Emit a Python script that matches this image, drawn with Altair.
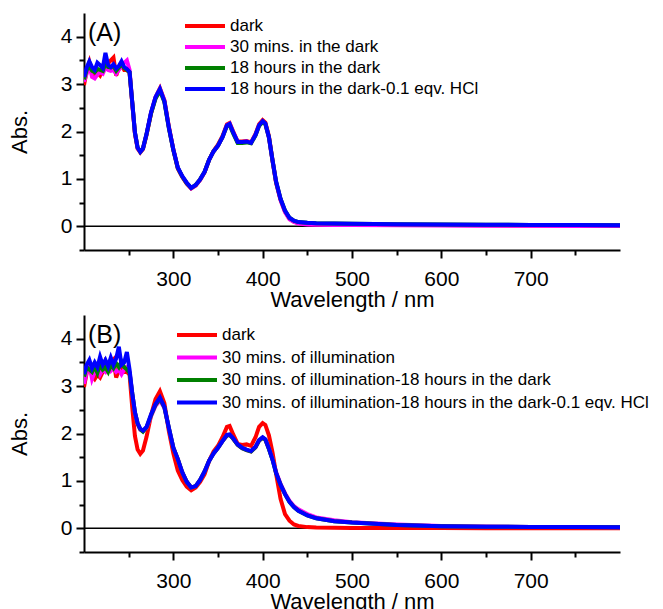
import altair as alt
import pandas as pd

FONT = "Liberation Sans"

wavelength = [200, 203, 206, 209, 212, 215, 218, 221, 224, 227, 230, 233, 236, 239, 242, 245, 248, 251,
              254, 257, 260, 263, 266,
              270, 275, 280, 285, 290, 295, 300, 305, 310, 315, 320, 325, 330, 335, 340, 345, 350, 355, 360,
              363, 367, 372, 377, 382, 387, 392, 396, 400, 403, 407, 411, 415,
              420, 425, 430, 435, 440,
              450, 460, 480, 500,
              550, 600, 650, 700, 750, 800]

# Panel A
a_dark = [2.98, 3.28, 3.46, 3.22, 3.15, 3.24, 3.18, 3.30, 3.52, 3.44, 3.50, 3.56, 3.18, 3.34, 3.40, 3.30, 3.30, 3.24,
          2.60, 1.96, 1.64, 1.56, 1.63,
          1.93, 2.38, 2.72, 2.91, 2.66, 2.10, 1.62, 1.22, 1.04, 0.90, 0.80, 0.86, 0.98, 1.14, 1.40, 1.59, 1.72, 1.90, 2.15,
          2.18, 2.00, 1.79, 1.79, 1.80, 1.77, 1.95, 2.15, 2.24, 2.19, 1.90, 1.40, 0.92,
          0.56, 0.31, 0.16, 0.10, 0.07,
          0.05, 0.045, 0.04, 0.035,
          0.03, 0.025, 0.02, 0.018, 0.015, 0.012]
a_30min = [3.05, 3.22, 3.40, 3.15, 3.12, 3.20, 3.25, 3.22, 3.35, 3.30, 3.28, 3.30, 3.22, 3.30, 3.38, 3.45, 3.50, 3.30,
           2.61, 1.97, 1.65, 1.57, 1.64,
           1.94, 2.39, 2.71, 2.89, 2.65, 2.09, 1.62, 1.23, 1.05, 0.91, 0.80, 0.86, 0.98, 1.14, 1.40, 1.58, 1.70, 1.88, 2.13,
           2.16, 1.98, 1.78, 1.78, 1.79, 1.76, 1.93, 2.13, 2.21, 2.16, 1.87, 1.38, 0.92,
           0.55, 0.30, 0.15, 0.09, 0.06,
           0.04, 0.035, 0.03, 0.025,
           0.02, 0.015, 0.012, 0.01, 0.008, 0.006]
a_18h = [3.10, 3.30, 3.38, 3.28, 3.25, 3.32, 3.30, 3.28, 3.45, 3.36, 3.35, 3.38, 3.28, 3.35, 3.42, 3.34, 3.30, 3.25,
         2.62, 1.98, 1.66, 1.57, 1.64,
         1.94, 2.38, 2.69, 2.86, 2.62, 2.07, 1.61, 1.23, 1.05, 0.91, 0.81, 0.87, 0.99, 1.15, 1.40, 1.58, 1.70, 1.88, 2.12,
         2.14, 1.96, 1.76, 1.76, 1.77, 1.75, 1.92, 2.12, 2.20, 2.16, 1.88, 1.39, 0.94,
         0.58, 0.33, 0.18, 0.12, 0.09,
         0.075, 0.065, 0.06, 0.055,
         0.045, 0.04, 0.035, 0.03, 0.025, 0.02]
a_18h_hcl = [3.15, 3.35, 3.48, 3.36, 3.30, 3.45, 3.40, 3.34, 3.66, 3.40, 3.36, 3.42, 3.33, 3.38, 3.48, 3.36, 3.32, 3.26,
             2.62, 1.98, 1.66, 1.57, 1.64,
             1.95, 2.40, 2.72, 2.90, 2.64, 2.08, 1.62, 1.24, 1.06, 0.92, 0.81, 0.87, 0.99, 1.15, 1.40, 1.58, 1.70, 1.88, 2.13,
             2.16, 1.98, 1.78, 1.78, 1.79, 1.76, 1.93, 2.13, 2.22, 2.17, 1.88, 1.40, 0.95,
             0.58, 0.33, 0.18, 0.12, 0.09,
             0.075, 0.065, 0.06, 0.055,
             0.045, 0.04, 0.035, 0.03, 0.025, 0.02]

# Panel B
b_dark = [2.98, 3.28, 3.46, 3.22, 3.15, 3.24, 3.18, 3.30, 3.52, 3.44, 3.50, 3.56, 3.18, 3.34, 3.40, 3.30, 3.30, 3.24,
          2.55, 1.95, 1.66, 1.57, 1.64,
          1.93, 2.38, 2.72, 2.89, 2.64, 2.05, 1.58, 1.22, 1.02, 0.88, 0.80, 0.86, 0.98, 1.14, 1.42, 1.62, 1.74, 1.92, 2.14,
          2.16, 1.98, 1.78, 1.76, 1.77, 1.74, 1.92, 2.14, 2.22, 2.18, 1.96, 1.60, 1.15,
          0.62, 0.30, 0.16, 0.08, 0.05,
          0.025, 0.015, 0.01, 0.008,
          0.005, 0.004, 0.003, 0.003, 0.002, 0.002]
b_30ill = [3.05, 3.30, 3.45, 3.15, 3.30, 3.40, 3.25, 3.35, 3.30, 3.40, 3.32, 3.38, 3.30, 3.35, 3.25, 3.35, 3.40, 3.30,
           2.84, 2.44, 2.20, 2.08, 2.05,
           2.12, 2.36, 2.58, 2.70, 2.54, 2.11, 1.70, 1.46, 1.18, 0.98, 0.86, 0.89, 1.02, 1.20, 1.42, 1.58, 1.70, 1.84, 1.96,
           1.97, 1.89, 1.76, 1.69, 1.65, 1.62, 1.71, 1.85, 1.91, 1.87, 1.68, 1.46, 1.19,
           0.94, 0.74, 0.58, 0.47, 0.40,
           0.30, 0.23, 0.17, 0.13,
           0.08, 0.05, 0.04, 0.03, 0.025, 0.02]
b_30ill_18h = [3.20, 3.40, 3.35, 3.30, 3.42, 3.28, 3.45, 3.35, 3.40, 3.30, 3.45, 3.38, 3.48, 3.40, 3.52, 3.40, 3.35, 3.28,
               2.85, 2.45, 2.21, 2.09, 2.04,
               2.13, 2.38, 2.60, 2.74, 2.55, 2.12, 1.70, 1.46, 1.18, 0.98, 0.86, 0.89, 1.02, 1.20, 1.42, 1.58, 1.70, 1.84, 1.96,
               1.97, 1.89, 1.76, 1.69, 1.65, 1.62, 1.71, 1.85, 1.91, 1.87, 1.67, 1.45, 1.17,
               0.92, 0.72, 0.56, 0.45, 0.37,
               0.27, 0.21, 0.15, 0.12,
               0.07, 0.045, 0.035, 0.03, 0.025, 0.02]
b_30ill_18h_hcl = [3.25, 3.45, 3.55, 3.38, 3.50, 3.40, 3.62, 3.45, 3.55, 3.42, 3.60, 3.45, 3.58, 3.83, 3.45, 3.50, 3.72, 3.35,
                   2.85, 2.45, 2.22, 2.10, 2.06,
                   2.14, 2.40, 2.62, 2.76, 2.56, 2.12, 1.70, 1.46, 1.18, 0.98, 0.86, 0.89, 1.02, 1.20, 1.42, 1.58, 1.70, 1.84, 1.97,
                   1.98, 1.90, 1.77, 1.70, 1.66, 1.63, 1.72, 1.86, 1.92, 1.88, 1.68, 1.45, 1.17,
                   0.92, 0.72, 0.56, 0.45, 0.37,
                   0.27, 0.21, 0.15, 0.12,
                   0.07, 0.045, 0.035, 0.03, 0.025, 0.02]

labels_a = ["dark", "30 mins. in the dark", "18 hours in the dark", "18 hours in the dark-0.1 eqv. HCl"]
labels_b = ["dark", "30 mins. of illumination", "30 mins. of illumination-18 hours in the dark",
            "30 mins. of illumination-18 hours in the dark-0.1 eqv. HCl"]
colors = ["#ff0000", "#ff00ff", "#008000", "#0000ff"]

x_ticks = [250, 300, 350, 400, 450, 500, 550, 600, 650, 700, 750]
y_ticks = [-0.5, 0, 0.5, 1, 1.5, 2, 2.5, 3, 3.5, 4]

W, H = 536, 237


def panel(series, labels, tag, lx, ly, row_pad):
    rows = []
    for lab, vals in zip(labels, series):
        for w, v in zip(wavelength, vals):
            rows.append({"wl": w, "abs": v, "series": lab})
    df = pd.DataFrame(rows)

    xscale = alt.Scale(domain=[200, 800], nice=False, zero=False)
    yscale = alt.Scale(domain=[-0.5, 4.5], nice=False, zero=False)

    xaxis = alt.Axis(
        values=x_ticks, grid=False, title="Wavelength / nm",
        labelExpr="datum.value % 100 === 0 ? datum.label : ''",
        tickSize=8,
        tickDash={"condition": {"test": "datum.value % 100 !== 0", "value": [5, 30]}, "value": []},
        labelFontSize=21, titleFontSize=22, labelPadding=10, titlePadding=0,
        labelFont=FONT, titleFont=FONT, titleFontWeight="normal",
        domainColor="black", domainWidth=2, tickColor="black", tickWidth=2,
        labelColor="black", titleColor="black")
    yaxis = alt.Axis(
        values=y_ticks, grid=False, title="Abs.", labelOverlap=False,
        labelExpr="(datum.value >= 0 && datum.value % 1 === 0) ? ('' + datum.value) : ''",
        tickSize=8,
        tickDash={"condition": {"test": "datum.value % 1 !== 0", "value": [5, 30]}, "value": []},
        labelFontSize=21, titleFontSize=22, labelPadding=4, titlePadding=29,
        labelFont=FONT, titleFont=FONT, titleFontWeight="normal",
        domainColor="black", domainWidth=2, tickColor="black", tickWidth=2,
        labelColor="black", titleColor="black")

    zero = alt.Chart(pd.DataFrame({"wl": [200, 800], "abs": [0, 0]})).mark_line(
        color="black", strokeWidth=1.5).encode(
        x=alt.X("wl:Q", scale=xscale, axis=xaxis),
        y=alt.Y("abs:Q", scale=yscale, axis=yaxis))

    lines = alt.Chart(df).mark_line(strokeWidth=4, clip=True).encode(
        x=alt.X("wl:Q", scale=xscale, axis=xaxis),
        y=alt.Y("abs:Q", scale=yscale, axis=yaxis),
        color=alt.Color("series:N", sort=labels,
                        scale=alt.Scale(domain=labels, range=colors),
                        legend=alt.Legend(
                            title=None, orient="none", legendX=lx, legendY=ly,
                            symbolType="M-2.5,0H2.5", symbolSize=256, symbolStrokeWidth=4,
                            labelFontSize=17, labelFont=FONT, labelColor="black",
                            labelOffset=15, rowPadding=row_pad, padding=0, labelLimit=700)),
    )

    return alt.layer(zero, lines).properties(
        width=W, height=H,
        title=alt.Title(tag, anchor="start", orient="top", frame="group", offset=-33, dx=4,
                        fontSize=25, font=FONT, fontWeight="normal", color="black"))


chart_a = panel([a_dark, a_30min, a_18h, a_18h_hcl], labels_a, "(A)", 111, 3, 3)
chart_b = panel([b_dark, b_30ill, b_30ill_18h, b_30ill_18h_hcl], labels_b, "(B)", 103, 10, 4.5)

chart = alt.vconcat(chart_a, chart_b, spacing=5).resolve_scale(color="independent").resolve_legend(
    color="independent").properties(
    padding={"left": 8, "top": 13, "right": 5, "bottom": 0}
).configure_view(stroke=None)

chart.save("out.html", embed_options={"renderer": "svg", "actions": False})
